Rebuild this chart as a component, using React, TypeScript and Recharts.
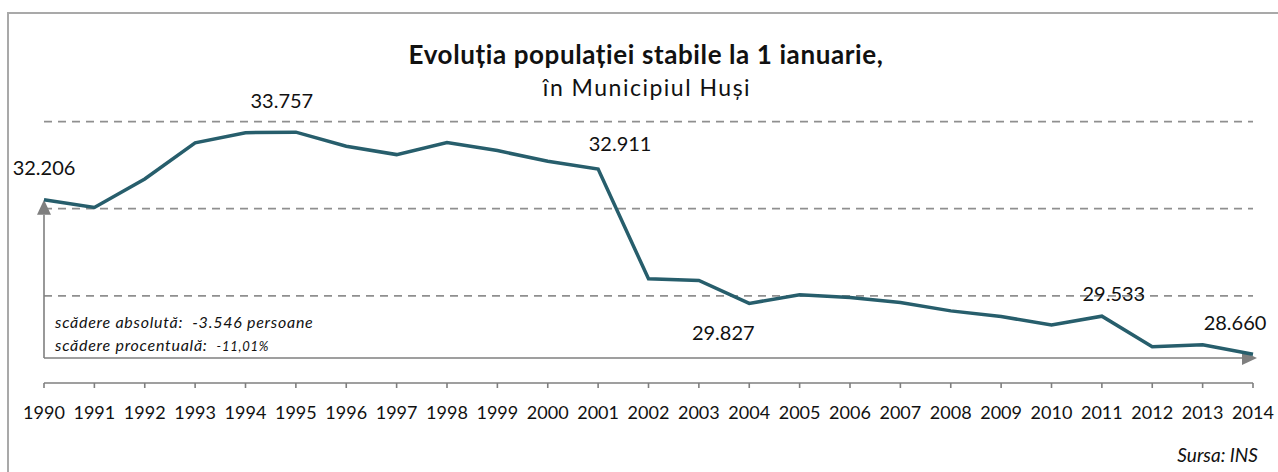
import React from "react";
import { LineChart, Line, XAxis, YAxis, ReferenceLine, LabelList } from "recharts";

// populatia stabila la 1 ianuarie, Municipiul Husi
const years = [
  "1990", "1991", "1992", "1993", "1994", "1995", "1996", "1997", "1998",
  "1999", "2000", "2001", "2002", "2003", "2004", "2005", "2006", "2007",
  "2008", "2009", "2010", "2011", "2012", "2013", "2014",
];
const population = [
  32206, 32030, 32683, 33511, 33745, 33757, 33433, 33242, 33518, 33334,
  33088, 32911, 30391, 30352, 29827, 30023, 29961, 29846, 29655, 29524,
  29333, 29533, 28834, 28880, 28660,
];
const gridValues = [30000, 32000, 34000];
const labelledYears = ["1990", "1995", "2001", "2004", "2011", "2014"];
const arrowLevel = 28575;

// where each value label sits relative to its point (baseline)
const labelOffset: Record<string, [number, number]> = {
  "1990": [0, -25],
  "1995": [-14, -24],
  "2001": [22, -18],
  "2004": [-26, 37],
  "2011": [12, -15],
  "2014": [-18, -24],
};

const data = years.map((year, i) => ({ year, value: population[i] }));

const FONT = "Lato, 'Open Sans', sans-serif";
const GREY = "#7f7f7f";

const fmt = (v: number) => String(v).replace(/\B(?=(\d{3})+(?!\d))/g, ".");

const makeArrow = (extend: number) => (props: any) => {
  const { x1, y1, x2, y2 } = props;
  const len = Math.hypot(x2 - x1, y2 - y1) || 1;
  const ux = (x2 - x1) / len;
  const uy = (y2 - y1) / len;
  const tx = x2 + ux * extend;
  const ty = y2 + uy * extend;
  const head = 15;
  const half = 7;
  const bx = tx - ux * head;
  const by = ty - uy * head;
  return (
    <g>
      <line x1={x1} y1={y1} x2={bx} y2={by} stroke={GREY} strokeWidth={1.6} />
      <polygon
        points={`${tx},${ty} ${bx - uy * half},${by + ux * half} ${bx + uy * half},${by - ux * half}`}
        fill={GREY}
      />
    </g>
  );
};

const ValueLabel = (props: any) => {
  const { x, y, index } = props;
  const year = years[index];
  if (!labelledYears.includes(year)) return null;
  const [dx, dy] = labelOffset[year];
  return (
    <text
      x={x + dx}
      y={y + dy}
      textAnchor="middle"
      fontFamily={FONT}
      fontSize={20}
      fill="#111"
    >
      {fmt(population[index])}
    </text>
  );
};

export default function App() {
  return (
    <div
      style={{
        position: "absolute",
        left: 0,
        top: 0,
        width: 1278,
        height: 472,
        overflow: "hidden",
        background: "#fff",
      }}
    >
      <div
        style={{
          position: "absolute",
          left: 7,
          top: 12,
          width: 1320,
          height: 520,
          border: "2px solid #a9a9a9",
        }}
      />
      <div style={{ position: "absolute", left: 0, top: 0 }}>
        <LineChart
          width={1278}
          height={472}
          data={data}
          margin={{ top: 78, right: 25, bottom: 48, left: 44 }}
        >
          <XAxis
            dataKey="year"
            interval={0}
            height={41}
            tickSize={5}
            tickMargin={18}
            axisLine={{ stroke: GREY, strokeWidth: 1.6 }}
            tickLine={{ stroke: GREY, strokeWidth: 1.6 }}
            tick={{ fill: "#111", fontSize: 18, fontFamily: FONT }}
          />
          <YAxis hide domain={[28000, 35000]} />
          {gridValues.map((v) => (
            <ReferenceLine
              key={v}
              y={v}
              stroke="#8f8f8f"
              strokeWidth={1.8}
              strokeDasharray="8 6"
            />
          ))}
          <ReferenceLine
            segment={[
              { x: years[0], y: arrowLevel },
              { x: years[years.length - 1], y: arrowLevel },
            ]}
            shape={makeArrow(4)}
          />
          <ReferenceLine
            segment={[
              { x: years[0], y: arrowLevel },
              { x: years[0], y: population[0] },
            ]}
            shape={makeArrow(0)}
          />
          <Line
            type="linear"
            dataKey="value"
            stroke="#275e6c"
            strokeWidth={3.5}
            dot={false}
            isAnimationActive={false}
          >
            <LabelList dataKey="value" content={ValueLabel} />
          </Line>
        </LineChart>
      </div>
      <svg
        width={1278}
        height={472}
        style={{ position: "absolute", left: 0, top: 0, pointerEvents: "none" }}
      >
        <text x={646} y={64} textAnchor="middle" fontFamily={FONT} fontSize={26} fontWeight="bold" letterSpacing={0.6} fill="#111">
          Evoluția populației stabile la 1 ianuarie,
        </text>
        <text x={647} y={96} textAnchor="middle" fontFamily={FONT} fontSize={23} letterSpacing={1.5} fill="#111">
          în Municipiul  Huși
        </text>
        <text x={55} y={328} fontFamily={FONT} fontSize={16} fontStyle="italic" letterSpacing={0.75} fill="#111" style={{ whiteSpace: "pre" }}>
          scădere absolută:  -3.546 persoane
        </text>
        <text x={55} y={351} fontFamily={FONT} fontSize={16} fontStyle="italic" letterSpacing={0.75} fill="#111" style={{ whiteSpace: "pre" }}>
          scădere procentuală:  <tspan fontSize={13}>-11,01%</tspan>
        </text>
        <text x={1258} y={462} textAnchor="end" fontFamily={FONT} fontSize={19} fontStyle="italic" fill="#111">
          Sursa: INS
        </text>
      </svg>
    </div>
  );
}
